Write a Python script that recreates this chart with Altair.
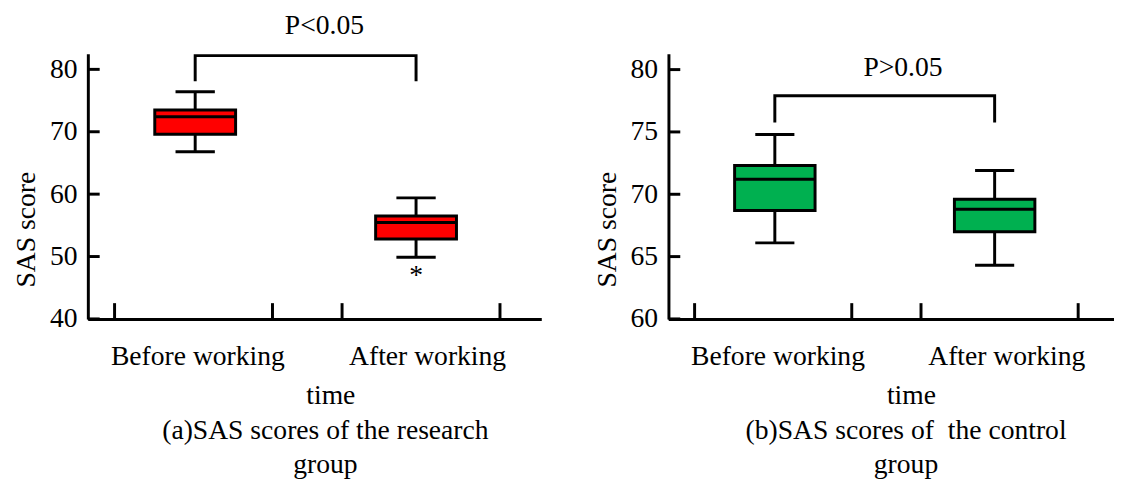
import altair as alt
import pandas as pd

FONT = "Liberation Serif"
FS = 28

categories = ["Before working", "After working"]
cat_x = [1, 2]

# (a) research group: lower whisker, Q1, median, Q3, upper whisker
a_low = [66.8, 49.9]
a_q1 = [69.6, 52.8]
a_med = [72.4, 55.45]
a_q3 = [73.5, 56.5]
a_high = [76.4, 59.4]

# (b) control group
b_low = [66.1, 64.3]
b_q1 = [68.7, 67.0]
b_med = [71.2, 68.8]
b_q3 = [72.3, 69.6]
b_high = [74.8, 71.9]

a_yticks = [40, 50, 60, 70, 80]
b_yticks = [60, 65, 70, 75, 80]
x_ticks = [0.635, 1.35, 1.665, 2.38]

a_label_pos = [1.01, 2.05]
b_label_pos = [1.012, 2.053]

a_bracket = [(1, 78.1), (1, 82.2), (2, 82.2), (2, 78.1)]
b_bracket = [(1, 75.75), (1, 77.9), (2, 77.9), (2, 75.75)]

a_ptext = ("P<0.05", 1.585, 85.7)
b_ptext = ("P>0.05", 1.583, 79.5)
a_star = ("*", 2.0, 45.6)

a_title = ["(a)SAS scores of the research", "group"]
b_title = ["(b)SAS scores of\u00a0 the control", "group"]

BOX_HALF = 0.183
CAP_HALF = 0.089
H = 269


def panel(low, q1, med, q3, high, color, ydom, yticks, xdom, width,
          label_pos, bracket, ptext, title, title_dx, axis_title_x, star=None):
    df = pd.DataFrame({"cat": categories, "x": cat_x, "low": low, "q1": q1,
                       "med": med, "q3": q3, "high": high})
    df["xl"] = df["x"] - BOX_HALF
    df["xr"] = df["x"] + BOX_HALF
    df["cl"] = df["x"] - CAP_HALF
    df["cr"] = df["x"] + CAP_HALF

    xscale = alt.Scale(domain=xdom, nice=False, zero=False)
    yscale = alt.Scale(domain=ydom, nice=False, zero=False)
    common = dict(domainColor="black", domainWidth=3, labelFont=FONT,
                  labelFontSize=FS, labelColor="black", titleFont=FONT,
                  titleFontSize=FS, titleFontWeight="normal", titleColor="black",
                  grid=False, tickSize=0)
    xaxis = alt.Axis(values=label_pos,
                     labelExpr="datum.value < 1.5 ? 'Before working' : 'After working'",
                     labelPadding=24, title="time",
                     titleX=axis_title_x, titleY=86, titleBaseline="alphabetic",
                     labelFlush=False, labelOverlap=False, **common)
    yaxis = alt.Axis(values=yticks, labelPadding=11,
                     title="SAS score", titleX=-54, titleY=178, titleAngle=270,
                     titleBaseline="alphabetic", titleAlign="center", **common)

    def X(f):
        return alt.X(f, type="quantitative", scale=xscale, axis=xaxis)

    def Y(f):
        return alt.Y(f, type="quantitative", scale=yscale, axis=yaxis)

    base = alt.Chart(df)
    whisk = base.mark_rule(color="black", strokeWidth=3).encode(
        x=X("x"), y=Y("low"), y2="high")
    box = base.mark_rect(fill=color, stroke="black", strokeWidth=3).encode(
        x=X("xl"), x2="xr", y=Y("q1"), y2="q3")
    median = base.mark_rule(color="black", strokeWidth=3).encode(
        x=X("xl"), x2="xr", y=Y("med"))
    cap_lo = base.mark_rule(color="black", strokeWidth=3).encode(
        x=X("cl"), x2="cr", y=Y("low"))
    cap_hi = base.mark_rule(color="black", strokeWidth=3).encode(
        x=X("cl"), x2="cr", y=Y("high"))

    xt = alt.Chart(pd.DataFrame({"t": x_ticks})).mark_rule(
        color="black", strokeWidth=3).encode(
        x=X("t"), y=alt.value(H), y2=alt.value(H - 16))
    yt = alt.Chart(pd.DataFrame({"v": yticks})).mark_rule(
        color="black", strokeWidth=3).encode(
        y=Y("v"), x=alt.value(0), x2=alt.value(12))

    bdf = pd.DataFrame({"bx": [p[0] for p in bracket],
                        "by": [p[1] for p in bracket],
                        "o": list(range(len(bracket)))})
    br = alt.Chart(bdf).mark_line(color="black", strokeWidth=3,
                                  strokeJoin="miter").encode(
        x=X("bx"), y=Y("by"), order="o:Q")

    tdf = pd.DataFrame({"txt": [ptext[0]], "tx": [ptext[1]], "ty": [ptext[2]]})
    pt = alt.Chart(tdf).mark_text(font=FONT, fontSize=FS, color="black",
                                  baseline="alphabetic", align="center").encode(
        x=X("tx"), y=Y("ty"), text="txt:N")

    layers = [whisk, box, median, cap_lo, cap_hi, xt, yt, br, pt]
    if star is not None:
        sdf = pd.DataFrame({"txt": [star[0]], "tx": [star[1]], "ty": [star[2]]})
        layers.append(alt.Chart(sdf).mark_text(
            font=FONT, fontSize=FS, color="black", baseline="alphabetic",
            align="center").encode(x=X("tx"), y=Y("ty"), text="txt:N"))

    return alt.layer(*layers).properties(
        width=width, height=H,
        title=alt.TitleParams(text=title, orient="bottom", anchor="middle",
                              font=FONT, fontSize=FS, fontWeight="normal",
                              color="black", dx=title_dx, offset=8,
                              lineHeight=34))


pa = panel(a_low, a_q1, a_med, a_q3, a_high, "#FF0000", [40, 82.5], a_yticks,
           [0.514, 2.567], 460, a_label_pos, a_bracket, a_ptext, a_title, 11, 246,
           star=a_star)
pb = panel(b_low, b_q1, b_med, b_q3, b_high, "#00B050", [60, 81.27], b_yticks,
           [0.516, 2.543], 452, b_label_pos, b_bracket, b_ptext, b_title, 15, 246)

chart = alt.hconcat(pa, pb, spacing=53, background="white",
                    padding={"top": 0, "left": 5, "right": 0, "bottom": 0}
                    ).configure_view(stroke=None)

chart.save("out.html", embed_options={"renderer": "svg", "actions": False})
